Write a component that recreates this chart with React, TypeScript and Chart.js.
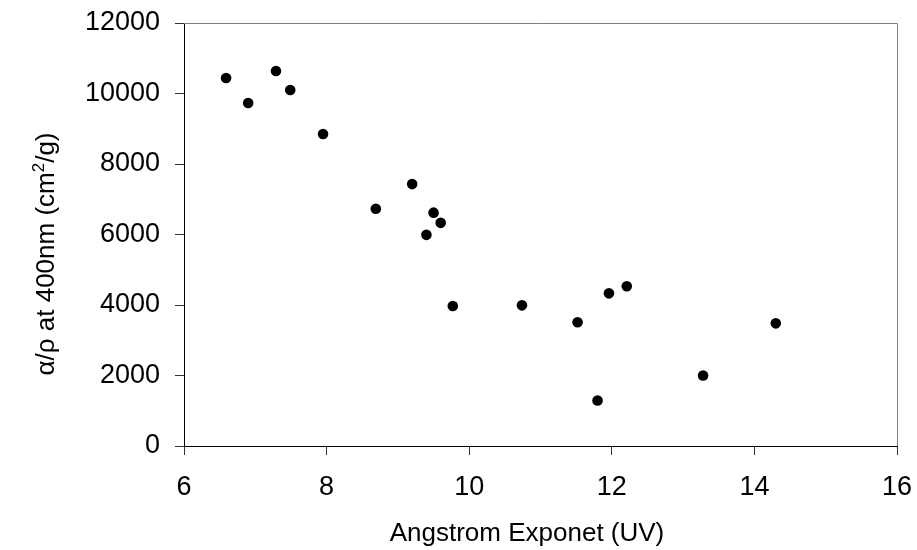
import React, { useEffect, useRef } from "react";
import { Chart, registerables } from "chart.js";

Chart.register(...registerables);

const angstromExponent = [6.59, 6.9, 7.29, 7.49, 7.95, 8.69, 9.2, 9.5, 9.6, 9.4, 9.77, 10.74, 11.52, 11.96, 12.21, 11.8, 14.3, 13.28];
const absorption = [10440, 9730, 10640, 10100, 8850, 6730, 7430, 6620, 6330, 5990, 3970, 3990, 3510, 4330, 4530, 1290, 3480, 2000];

const xTitle = "Angstrom Exponet (UV)";
const yTitleMain = "α/ρ at 400nm (cm";
const yTitleSup = "2";
const yTitleEnd = "/g)";

const FONT = "'Liberation Sans', Arial, sans-serif";
const FS = 27;
const TFS = 26;

export default function App() {
  const ref = useRef<HTMLCanvasElement | null>(null);

  useEffect(() => {
    if (!ref.current) return;
    const titlePlugin = {
      id: "titles",
      afterDraw(chart: any) {
        const ctx = chart.ctx;
        const a = chart.chartArea;
        ctx.save();
        ctx.strokeStyle = "#808080";
        ctx.lineWidth = 1;
        ctx.beginPath();
        ctx.moveTo(a.left, a.top + 0.5);
        ctx.lineTo(a.right + 0.5, a.top + 0.5);
        ctx.lineTo(a.right + 0.5, a.bottom);
        ctx.stroke();
        ctx.fillStyle = "#000";
        ctx.font = `${TFS}px ${FONT}`;
        ctx.textAlign = "center";
        ctx.textBaseline = "alphabetic";
        ctx.fillText(xTitle, 527, 541);
        ctx.translate(54, 254);
        ctx.rotate(-Math.PI / 2);
        ctx.font = `${TFS}px ${FONT}`;
        const w1 = ctx.measureText(yTitleMain).width;
        const w3 = ctx.measureText(yTitleEnd).width;
        ctx.font = `17px ${FONT}`;
        const w2 = ctx.measureText(yTitleSup).width;
        const total = w1 + w2 + w3;
        let x = -total / 2;
        ctx.textAlign = "left";
        ctx.font = `${TFS}px ${FONT}`;
        ctx.fillText(yTitleMain, x, 0);
        x += w1;
        ctx.font = `17px ${FONT}`;
        ctx.fillText(yTitleSup, x, -10);
        x += w2;
        ctx.font = `${TFS}px ${FONT}`;
        ctx.fillText(yTitleEnd, x, 0);
        ctx.restore();
      },
    };

    const zeroPad = (s: any) => {
      s.paddingTop = 0;
      s.paddingBottom = 0;
      s.paddingLeft = 0;
      s.paddingRight = 0;
    };

    const chart = new Chart(ref.current, {
      type: "scatter",
      data: {
        datasets: [
          {
            data: angstromExponent.map((x, i) => ({ x, y: absorption[i] })),
            backgroundColor: "#000",
            borderColor: "#000",
            pointRadius: 5.3,
            pointBorderWidth: 0,
          },
        ],
      },
      options: {
        responsive: false,
        animation: false,
        devicePixelRatio: 1,
        layout: { padding: { left: 0, top: 23, right: 20, bottom: 0 } },
        plugins: { legend: { display: false }, tooltip: { enabled: false } },
        scales: {
          x: {
            type: "linear",
            min: 6,
            max: 16,
            afterFit: (s: any) => {
              s.height = 104;
              zeroPad(s);
            },
            ticks: {
              stepSize: 2,
              color: "#000",
              font: { family: FONT, size: FS },
              padding: 16,
              callback: (v: any) => String(v),
            },
            grid: { drawOnChartArea: false, drawTicks: true, tickLength: 9, color: "#333" },
            border: { color: "#000", width: 1 },
          },
          y: {
            type: "linear",
            min: 0,
            max: 12000,
            afterFit: (s: any) => {
              s.width = 184;
              zeroPad(s);
            },
            ticks: {
              stepSize: 2000,
              color: "#000",
              font: { family: FONT, size: FS },
              padding: 15,
              callback: (v: any) => String(v),
            },
            grid: { drawOnChartArea: false, drawTicks: true, tickLength: 9, color: "#333" },
            border: { color: "#000", width: 1 },
          },
        },
      },
      plugins: [titlePlugin],
    });
    return () => chart.destroy();
  }, []);

  return (
    <div style={{ position: "absolute", left: 0, top: 0, width: 917, height: 550, background: "#fff" }}>
      <canvas ref={ref} width={917} height={550} />
    </div>
  );
}
